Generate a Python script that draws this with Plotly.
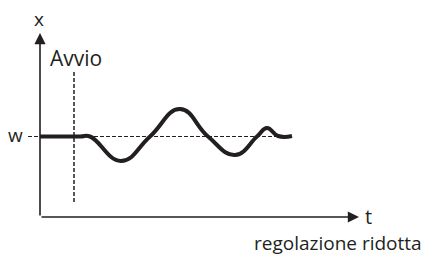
import plotly.graph_objects as go

# Data (time t, process value x); origin at axes crossing
t_curve = [0, 40, 50, 81, 110, 140, 168, 195, 217, 227, 238, 252]
x_curve = [80.5, 80.5, 80.5, 56, 80.5, 108, 80.5, 62, 80.5, 89, 81, 81]
setpoint_w = 80.5
start_t = 34
axis_t_max = 319
axis_x_max = 184

INK = "#231f20"
FONT = "Open Sans"

fig = go.Figure()

# setpoint dashed line
fig.add_trace(go.Scatter(x=[-12, 250], y=[setpoint_w, setpoint_w], mode="lines",
                         line=dict(color=INK, width=1.2, dash="4px,2px"), hoverinfo="skip"))
# start dashed vertical line
fig.add_trace(go.Scatter(x=[start_t, start_t], y=[15, 147], mode="lines",
                         line=dict(color=INK, width=1.5, dash="4px,2px"), hoverinfo="skip"))
# response curve
fig.add_trace(go.Scatter(x=t_curve, y=x_curve, mode="lines",
                         line=dict(color=INK, width=4, shape="spline", smoothing=1.3),
                         hoverinfo="skip"))

# axes with arrows
fig.add_annotation(x=0, y=axis_x_max, ax=0, ay=0, xref="x", yref="y", axref="x", ayref="y",
                   text="", showarrow=True, arrowhead=2, arrowsize=1.4, arrowwidth=1.6,
                   arrowcolor=INK)
fig.add_annotation(x=axis_t_max, y=0, ax=0, ay=0, xref="x", yref="y", axref="x", ayref="y",
                   text="", showarrow=True, arrowhead=2, arrowsize=1.4, arrowwidth=1.6,
                   arrowcolor=INK)

def label(text, x, y, size, xanchor="center"):
    fig.add_annotation(x=x, y=y, xref="x", yref="y", text=text, showarrow=False,
                       xanchor=xanchor, yanchor="middle",
                       font=dict(family=FONT, size=size, color=INK))

label("x", -1, 198, 19)
label("Avvio", 8, 159, 21, xanchor="left")
label("w", -24.5, 82, 19)
label("t", 328, 1, 20)
label("regolazione ridotta", 298, -26, 19)

fig.update_layout(
    width=424, height=256,
    margin=dict(l=0, r=0, t=0, b=0),
    paper_bgcolor="white", plot_bgcolor="white",
    showlegend=False,
    xaxis=dict(range=[-40, 384], visible=False, fixedrange=True),
    yaxis=dict(range=[-39, 217], visible=False, fixedrange=True),
)

fig.write_html("out.html", config={"displayModeBar": False},
               post_script="document.body.style.margin='0';document.body.style.overflow='hidden';")
